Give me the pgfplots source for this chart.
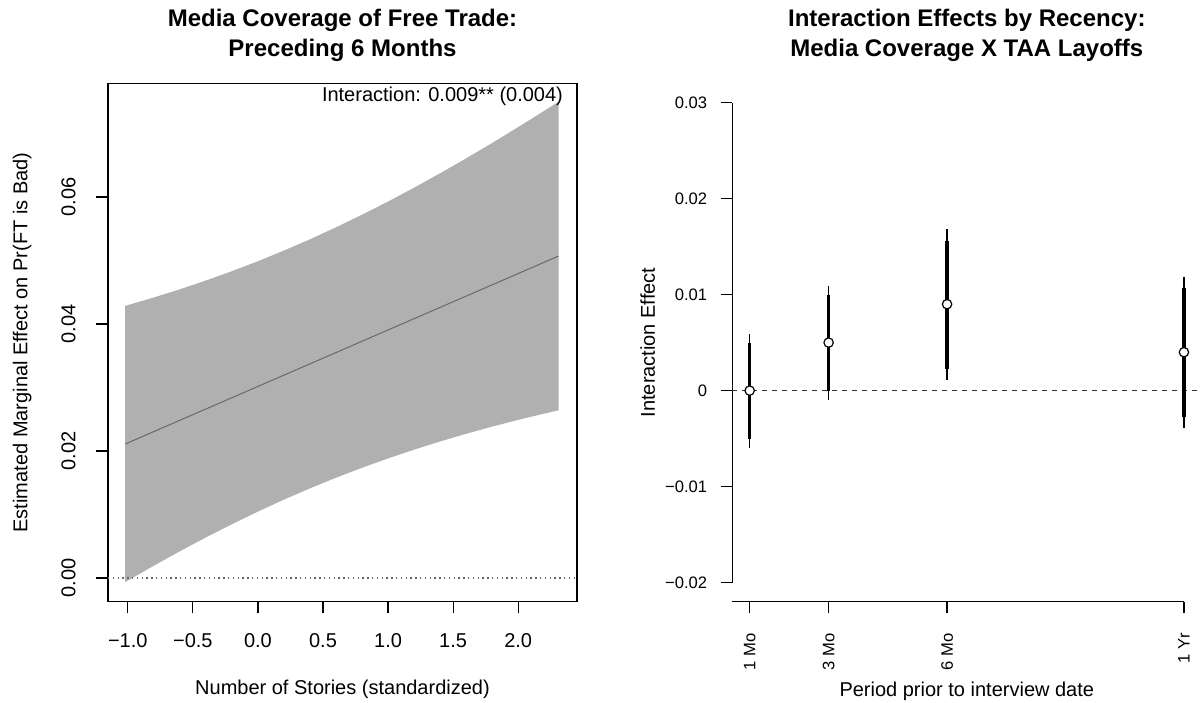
\documentclass[border=0pt]{standalone}
\usepackage{fontspec}
\setmainfont{Liberation Sans}
\usepackage{pgfplots}
\pgfplotsset{compat=1.18}
\usepackage{pgfplotstable}
\definecolor{bandgray}{RGB}{176,176,176}
\definecolor{linegray}{RGB}{105,105,105}
\newcommand{\tf}{\fontsize{10}{12}\selectfont}
\newcommand{\smf}{\fontsize{8.3}{10}\selectfont}

% confidence band polygon: upper bound left->right, lower bound right->left
\pgfplotstableread{
x y
-1.02 0.04285
-0.80 0.04417
-0.60 0.04546
-0.40 0.04684
-0.20 0.04831
0.00 0.04988
0.20 0.05156
0.40 0.05333
0.60 0.05522
0.80 0.05720
1.00 0.05928
1.20 0.06146
1.40 0.06373
1.60 0.06608
1.80 0.06850
2.00 0.07100
2.20 0.07356
2.31 0.07500
2.31 0.02641
2.20 0.02589
2.00 0.02490
1.80 0.02384
1.60 0.02271
1.40 0.02150
1.20 0.02021
1.00 0.01883
0.80 0.01736
0.60 0.01579
0.40 0.01412
0.20 0.01234
0.00 0.01046
-0.20 0.00847
-0.40 0.00639
-0.60 0.00421
-0.80 0.00194
-1.02 -0.00065
}\bandtab

\pgfplotstableread{
x y
-1.02 0.0211
2.31 0.0507
}\meantab

% month, estimate, thin (outer) interval
\pgfplotstableread{
m est thinlo thinhi
1 0.0000 -0.0060 0.0059
3 0.0050 -0.0010 0.0109
6 0.0090 0.0011 0.0168
12 0.0040 -0.0039 0.0118
}\esttab

\begin{document}
\begin{tikzpicture}
\useasboundingbox (0,0) rectangle (602pt,351pt);

\begin{axis}[
  at={(54pt,50.15pt)}, anchor=south west, scale only axis,
  width=234.5pt, height=259.2pt,
  xmin=-1.152, xmax=2.452, ymin=-0.00373, ymax=0.0779,
  scaled ticks=false,
  xtick={-1,-0.5,0,0.5,1,1.5,2},
  xticklabels={−1.0,−0.5,0.0,0.5,1.0,1.5,2.0},
  ytick={0,0.02,0.04,0.06},
  yticklabels={0.00,0.02,0.04,0.06},
  tick align=outside, tick pos=left, major tick length=5.8pt,
  every tick/.style={black, line width=0.6pt},
  axis line style={line width=0.6pt},
  tick label style={font=\tf, inner sep=0pt},
  xticklabel style={anchor=north, yshift=-10pt},
  yticklabel style={xshift=-10.5pt, rotate=90, anchor=base},
  xlabel={Number of Stories (standardized)},
  ylabel={Estimated Marginal Effect on Pr(FT is Bad)},
  every axis x label/.style={at={([yshift=-46.2pt]axis description cs:0.5,0)}, anchor=base, font=\tf, inner sep=0pt},
  every axis y label/.style={at={([xshift=-40.3pt]axis description cs:0,0.5)}, rotate=90, anchor=base, font=\tf, inner sep=0pt},
]
\addplot[fill=bandgray, draw=none] table[x=x, y=y] {\bandtab};
\addplot[linegray, line width=0.5pt] table[x=x, y=y] {\meantab};
\addplot[linegray, line width=0.6pt, dash pattern=on 0.7pt off 1.7pt] coordinates {(-1.152,0) (2.452,0)};
\end{axis}

\begin{axis}[
  at={(366.15pt,50.15pt)}, anchor=south west, scale only axis,
  width=234.5pt, height=259.2pt,
  xmin=0.56, xmax=12.44, ymin=-0.02198, ymax=0.032,
  scaled ticks=false, clip=false,
  xtick={1,3,6,12},
  xticklabels={1 Mo,3 Mo,6 Mo,1 Yr},
  ytick={-0.02,-0.01,0,0.01,0.02,0.03},
  yticklabels={−0.02,−0.01,0,0.01,0.02,0.03},
  axis line style={draw=none},
  tick align=outside, tick pos=left, major tick length=5.8pt,
  every tick/.style={black, line width=0.6pt},
  tick label style={font=\smf, inner sep=0pt},
  xticklabel style={yshift=-9.7pt, rotate=90, anchor=east},
  yticklabel style={anchor=east, xshift=-6.6pt},
  xlabel={Period prior to interview date},
  ylabel={Interaction Effect},
  every axis x label/.style={at={([yshift=-47.5pt]axis description cs:0.5,0)}, anchor=base, font=\tf, inner sep=0pt},
  every axis y label/.style={at={([xshift=-38.7pt]axis description cs:0,0.5)}, rotate=90, anchor=base, font=\tf, inner sep=0pt},
]
\draw[line width=0.6pt] (axis cs:0.56,-0.02198) -- (axis cs:12,-0.02198);
\draw[line width=0.6pt] (axis cs:0.56,-0.02) -- (axis cs:0.56,0.03);
\addplot[black!80, line width=0.6pt, dash pattern=on 2.5pt off 2.5pt] coordinates {(0.56,0) (12.44,0)};
% thin (outer) intervals
\addplot[only marks, mark=none,
  error bars/.cd, y dir=both, y explicit, error mark=none,
  error bar style={draw=black, line width=0.6pt, solid}]
  table[x=m, y=est, y error plus expr=\thisrow{thinhi}-\thisrow{est}, y error minus expr=\thisrow{est}-\thisrow{thinlo}] {\esttab};
% thick (inner) intervals, drawn as narrow filled bars
\addplot[fill=black, draw=none] coordinates {(0.96,-0.0050) (1.04,-0.0050) (1.04,0.0050) (0.96,0.0050)};
\addplot[fill=black, draw=none] coordinates {(2.96,0.0000) (3.04,0.0000) (3.04,0.0100) (2.96,0.0100)};
\addplot[fill=black, draw=none] coordinates {(5.96,0.0023) (6.04,0.0023) (6.04,0.0156) (5.96,0.0156)};
\addplot[fill=black, draw=none] coordinates {(11.96,-0.0027) (12.04,-0.0027) (12.04,0.0107) (11.96,0.0107)};
\addplot[only marks, mark=*, mark size=2.35pt, mark options={fill=white, draw=black, line width=0.6pt}] table[x=m, y=est] {\esttab};
\end{axis}

\node[font=\fontsize{12}{15}\selectfont\bfseries, anchor=base, inner sep=0pt] at (171.25pt,337.65pt) {Media Coverage of Free Trade:};
\node[font=\fontsize{12}{15}\selectfont\bfseries, anchor=base, inner sep=0pt] at (171.25pt,322.65pt) {Preceding 6 Months};
\node[font=\fontsize{12}{15}\selectfont\bfseries, anchor=base, inner sep=0pt] at (483.4pt,337.65pt) {Interaction Effects by Recency:};
\node[font=\fontsize{12}{15}\selectfont\bfseries, anchor=base, inner sep=0pt] at (483.4pt,322.65pt) {Media Coverage X TAA Layoffs};
\node[font=\tf, anchor=base east, inner sep=0pt] at (281.65pt,300.15pt) {Interaction: 0.009** (0.004)};
\end{tikzpicture}
\end{document}
